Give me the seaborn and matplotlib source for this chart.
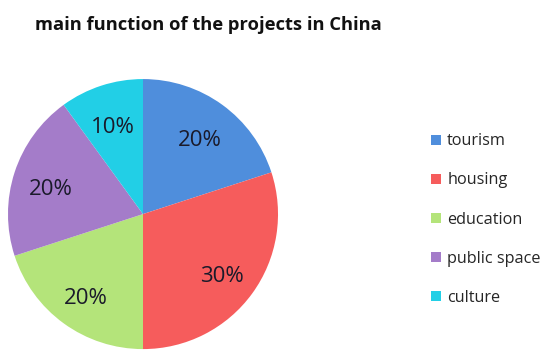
import matplotlib
matplotlib.use("Agg")
import matplotlib.pyplot as plt
import seaborn as sns

# ===============================
# Data
# ===============================
labels = ["tourism", "housing", "education", "public space", "culture"]
shares = [20, 30, 20, 20, 10]
colors = ["#4f8edc", "#f65c5c", "#b4e47a", "#a47cc9", "#22cfe6"]

sns.set_theme(style="white")
plt.rcParams["font.family"] = ["Open Sans", "DejaVu Sans"]

fig = plt.figure(figsize=(5.5, 3.61), dpi=100)
ax = fig.add_axes([0.0145, 0.033, 0.491, 0.748])

wedges, texts, autotexts = ax.pie(
    shares,
    colors=colors,
    startangle=90,
    counterclock=False,
    autopct="%d%%",
    pctdistance=0.72,
    wedgeprops=dict(linewidth=0),
    textprops=dict(fontsize=16, color="#1a1a2a"),
)
# labels sit a little lower in the original
for t in autotexts:
    t.set_y(t.get_position()[1] - 0.04)

ax.set_xlim(-1, 1)
ax.set_ylim(-1, 1)
ax.set_aspect("equal")

fig.text(0.064, 0.955, "main function of the projects in China",
         fontsize=13.2, fontweight="bold", color="#111111", va="top")

fig.legend(
    wedges, labels,
    loc="upper left",
    bbox_to_anchor=(0.757, 0.671),
    frameon=False,
    fontsize=11.7,
    handlelength=0.6,
    handleheight=0.6,
    handletextpad=0.4,
    labelspacing=1.42,
)

plt.savefig("out.png", dpi=100)
